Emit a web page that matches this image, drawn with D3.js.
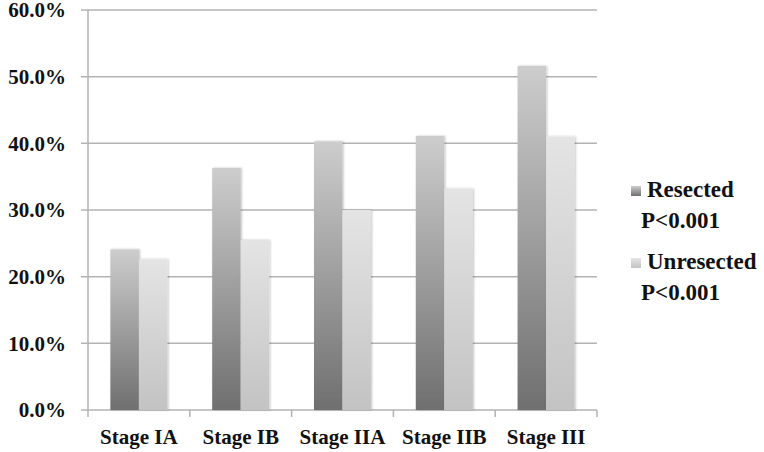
<!DOCTYPE html>
<html>
<head>
<meta charset="utf-8">
<script src="https://cdn.jsdelivr.net/npm/d3@7"></script>
<style>
  body { margin: 0; background: #fff; }
  text { font-family: "Liberation Serif", "DejaVu Serif", serif; font-weight: bold; fill: #111; }
</style>
</head>
<body>
<script>
// data
var stages = ["Stage IA", "Stage IB", "Stage IIA", "Stage IIB", "Stage III"];
var resected = [24.1, 36.3, 40.3, 41.1, 51.6];
var unresected = [22.6, 25.5, 30.0, 33.2, 41.0];
var seriesNames = ["Resected", "Unresected"];
var seriesNotes = ["P<0.001", "P<0.001"];
var yTicks = [0, 10, 20, 30, 40, 50, 60];

var W = 764, H = 452;
var margin = {top: 10, right: 167, bottom: 42, left: 88},
  width = W - margin.left - margin.right,
  height = H - margin.top - margin.bottom;

var svg = d3.select("body").append("svg")
  .attr("width", W)
  .attr("height", H);

var defs = svg.append("defs");
// bar gradients, dark at the bottom
function grad(id, top, bottom) {
  var g = defs.append("linearGradient").attr("id", id)
    .attr("x1", 0).attr("y1", 0).attr("x2", 0).attr("y2", 1);
  g.append("stop").attr("offset", "0%").attr("stop-color", top);
  g.append("stop").attr("offset", "100%").attr("stop-color", bottom);
}
grad("gResected", "#cdcdcd", "#6f6f6f");
grad("gUnresected", "#e4e4e4", "#c3c3c3");

var shadow = defs.append("filter").attr("id", "shadow")
  .attr("x", "-20%").attr("y", "-5%").attr("width", "140%").attr("height", "110%");
shadow.append("feDropShadow").attr("dx", 1).attr("dy", 0).attr("stdDeviation", 1)
  .attr("flood-color", "#000").attr("flood-opacity", 0.25);

var g = svg.append("g")
  .attr("transform", "translate(" + margin.left + "," + margin.top + ")");

var x0 = d3.scaleBand().domain(stages).range([0, width]).paddingInner(0.44).paddingOuter(0.22);
// category boundaries for the ticks
var xCat = d3.scaleBand().domain(stages).range([0, width]);
var x1 = d3.scaleBand().domain(seriesNames).range([0, x0.bandwidth()]);
var y = d3.scaleLinear().domain([0, 60]).range([height, 0]);

// gridlines
g.selectAll(".grid").data(yTicks).enter().append("line")
  .attr("x1", -7).attr("x2", width)
  .attr("y1", function(d) { return y(d); })
  .attr("y2", function(d) { return y(d); })
  .attr("stroke", "#b3b3b3").attr("stroke-width", 1.5);

// y axis line
g.append("line").attr("x1", 0).attr("x2", 0).attr("y1", 0).attr("y2", height)
  .attr("stroke", "#b3b3b3").attr("stroke-width", 1.5);

// x tick marks at category boundaries
var bounds = stages.map(function(s) { return xCat(s); }).concat([width]);
g.selectAll(".xtick").data(bounds).enter().append("line")
  .attr("x1", function(d) { return d; }).attr("x2", function(d) { return d; })
  .attr("y1", height).attr("y2", height + 7)
  .attr("stroke", "#b3b3b3").attr("stroke-width", 1.5);

// y labels
g.selectAll(".ylab").data(yTicks).enter().append("text")
  .attr("x", -22)
  .attr("y", function(d) { return y(d); })
  .attr("dy", "0.35em")
  .attr("text-anchor", "end")
  .style("font-size", "21px")
  .text(function(d) { return d3.format(".1f")(d) + "%"; });

// x labels
g.selectAll(".xlab").data(stages).enter().append("text")
  .attr("x", function(d) { return xCat(d) + xCat.bandwidth() / 2; })
  .attr("y", height + 34)
  .attr("text-anchor", "middle")
  .style("font-size", "21px")
  .text(function(d) { return d; });

// bars
var rows = stages.map(function(s, i) {
  return {stage: s, vals: [
    {name: "Resected", v: resected[i], fill: "url(#gResected)"},
    {name: "Unresected", v: unresected[i], fill: "url(#gUnresected)"}
  ]};
});

g.selectAll(".grp").data(rows).enter().append("g")
  .attr("transform", function(d) { return "translate(" + x0(d.stage) + ",0)"; })
  .selectAll("rect").data(function(d) { return d.vals; }).enter().append("rect")
  .attr("x", function(d) { return x1(d.name); })
  .attr("y", function(d) { return y(d.v); })
  .attr("width", x1.bandwidth())
  .attr("height", function(d) { return height - y(d.v); })
  .attr("fill", function(d) { return d.fill; })
  .attr("filter", "url(#shadow)");

// legend
var legendFills = ["url(#gResected)", "url(#gUnresected)"];
var legendY = [197, 269];
seriesNames.forEach(function(name, i) {
  var ly = legendY[i];
  svg.append("rect").attr("x", 631).attr("y", ly - 11).attr("width", 10).attr("height", 10)
    .attr("fill", legendFills[i]);
  svg.append("text").attr("x", 647).attr("y", ly)
    .style("font-size", "23px").text(name);
  svg.append("text").attr("x", 641).attr("y", ly + 31)
    .style("font-size", "23px").text(seriesNotes[i]);
});
</script>
</body>
</html>
